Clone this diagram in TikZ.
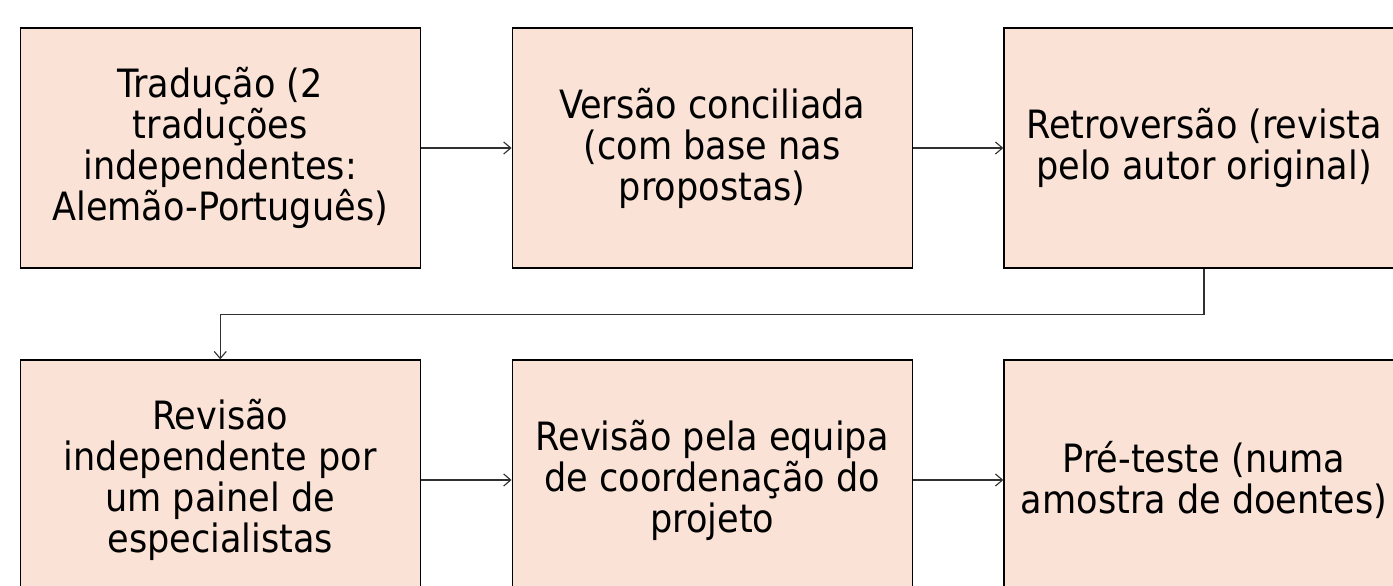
\documentclass[tikz,border=0pt]{standalone}
\usepackage{fontspec}
\setmainfont{DejaVu Sans Condensed}
\usetikzlibrary{arrows.meta}
\definecolor{boxfill}{HTML}{FAE3D6}
\definecolor{linegray}{HTML}{303030}
\begin{document}
\begin{tikzpicture}[x=1pt,y=-1pt,
  stepbox/.style={draw=black,line width=1.4pt,fill=boxfill,minimum width=400pt,minimum height=240pt,
    inner sep=0pt,align=center,font=\fontsize{39}{41}\selectfont},
  conn/.style={draw=linegray,line width=1.3pt,-{Straight Barb[length=7pt,width=12pt,line width=1.1pt]}}]
\useasboundingbox (0,0) rectangle (1393,586);
\node[stepbox] (b1) at (220.25,148) {Tradução (2\\traduções\\independentes:\\Alemão-Português)};
\node[stepbox] (b2) at (712.25,148) {Versão conciliada\\(com base nas\\propostas)};
\node[stepbox] (b3) at (1204,148) {Retroversão (revista\\pelo autor original)};
\node[stepbox] (b4) at (220.25,480) {Revisão\\independente por\\um painel de\\especialistas};
\node[stepbox] (b5) at (712.25,480) {Revisão pela equipa\\de coordenação do\\projeto};
\node[stepbox] (b6) at (1204,480) {Pré-teste (numa\\amostra de doentes)};
\draw[conn] (b1.east) -- (b2.west);
\draw[conn] (b2.east) -- (b3.west);
\draw[conn] (b4.east) -- (b5.west);
\draw[conn] (b5.east) -- (b6.west);
\draw[conn] (b3.south) -- ++(0,46) -| (b4.north);
\end{tikzpicture}
\end{document}
